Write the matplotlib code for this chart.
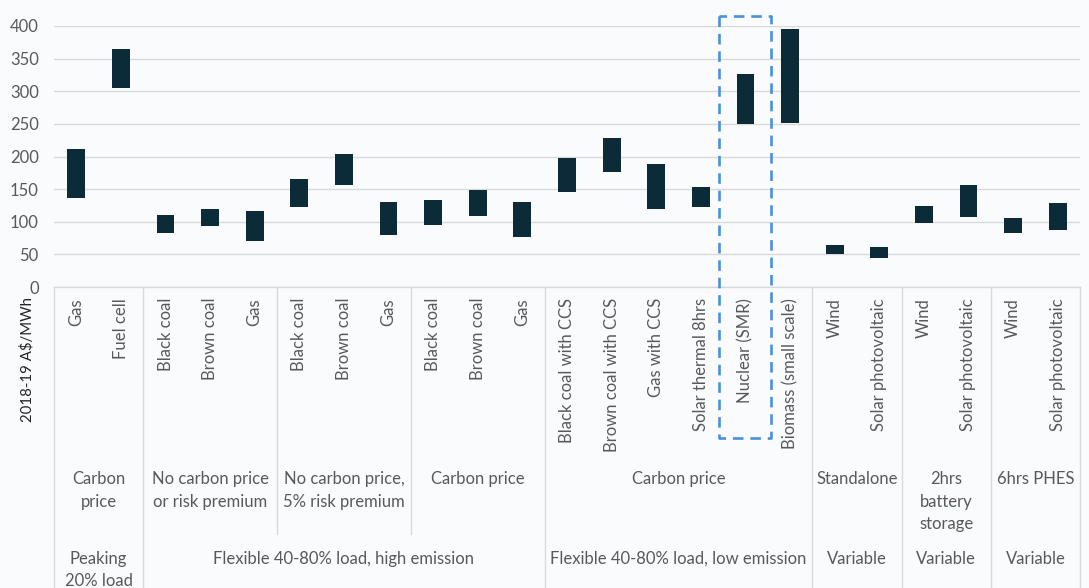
import matplotlib
matplotlib.use("Agg")
import matplotlib.pyplot as plt
from matplotlib.transforms import blended_transform_factory
from matplotlib.lines import Line2D

# Levelised cost ranges, 2018-19 A$/MWh
technologies = [
    "Gas", "Fuel cell",
    "Black coal", "Brown coal", "Gas",
    "Black coal", "Brown coal", "Gas",
    "Black coal", "Brown coal", "Gas",
    "Black coal with CCS", "Brown coal with CCS", "Gas with CCS",
    "Solar thermal 8hrs", "Nuclear (SMR)", "Biomass (small scale)",
    "Wind", "Solar photovoltaic",
    "Wind", "Solar photovoltaic",
    "Wind", "Solar photovoltaic",
]
cost_low = [136, 305, 82, 94, 70, 123, 157, 80, 95, 109, 76,
            146, 177, 119, 122, 250, 252, 51, 44, 98, 108, 83, 88]
cost_high = [212, 364, 110, 120, 117, 165, 204, 131, 133, 149, 131,
             197, 228, 189, 154, 326, 395, 64, 61, 124, 157, 105, 129]

# Middle level: (label, first index, last index exclusive)
scenarios = [
    ("Carbon\nprice", 0, 2),
    ("No carbon price\nor risk premium", 2, 5),
    ("No carbon price,\n5% risk premium", 5, 8),
    ("Carbon price", 8, 11),
    ("Carbon price", 11, 17),
    ("Standalone", 17, 19),
    ("2hrs\nbattery\nstorage", 19, 21),
    ("6hrs PHES", 21, 23),
]
# Outer level
load_types = [
    ("Peaking\n20% load", 0, 2),
    ("Flexible 40-80% load, high emission", 2, 11),
    ("Flexible 40-80% load, low emission", 11, 17),
    ("Variable", 17, 19),
    ("Variable", 19, 21),
    ("Variable", 21, 23),
]
highlight = "Nuclear (SMR)"
y_ticks = [0, 50, 100, 150, 200, 250, 300, 350, 400]

plt.rcParams["font.family"] = ["Lato", "DejaVu Sans"]
TEXT = "#595959"
GRID = "#D9D9D9"
BAR = "#0B2B38"
BG = "#FAFBFD"
FS = 12

W, H = 1089, 588
fig = plt.figure(figsize=(W / 100, H / 100), dpi=100, facecolor=BG)
ax = fig.add_axes([54 / W, 1 - 287 / H, (1080 - 54) / W, (287 - 26) / H])
ax.set_facecolor(BG)

n = len(technologies)
x = list(range(n))
heights = [h - l for l, h in zip(cost_low, cost_high)]
ax.bar(x, heights, bottom=cost_low, width=0.4, color=BAR, zorder=3)

ax.set_xlim(-0.5, n - 0.5)
ax.set_ylim(0, 400)
ax.set_yticks(y_ticks)
ax.tick_params(axis="y", length=0, pad=11, labelsize=FS, labelcolor=TEXT)
ax.set_xticks([])
ax.grid(axis="y", color=GRID, lw=1.0, zorder=0)
for s in ["top", "right", "left"]:
    ax.spines[s].set_visible(False)
ax.spines["bottom"].set_color(GRID)
ax.spines["bottom"].set_linewidth(1.0)

# Multi-level category axis
tr = blended_transform_factory(ax.transData, fig.transFigure)


def fy(px):
    return 1 - px / H


for i, name in enumerate(technologies):
    ax.text(i, fy(298), name, transform=tr, rotation=90, ha="center",
            va="top", fontsize=FS, color=TEXT)

for label, a, b in scenarios:
    ax.text((a + b - 1) / 2, fy(471), label, transform=tr, ha="center",
            va="top", fontsize=FS, color=TEXT, linespacing=1.5,
            multialignment="center")

for label, a, b in load_types:
    ax.text((a + b - 1) / 2, fy(551), label, transform=tr, ha="center",
            va="top", fontsize=FS, color=TEXT, linespacing=1.45,
            multialignment="center", clip_on=False)

outer_edges = {a for _, a, _ in load_types} | {n}
inner_edges = {a for _, a, _ in scenarios} - outer_edges
for e in sorted(outer_edges):
    fig.add_artist(Line2D([e - 0.5, e - 0.5], [fy(287), 0], transform=tr,
                          color=GRID, lw=1.0))
for e in sorted(inner_edges):
    fig.add_artist(Line2D([e - 0.5, e - 0.5], [fy(287), fy(534)],
                          transform=tr, color=GRID, lw=1.0))

# Dashed box around the highlighted technology
k = technologies.index(highlight)
x0, x1 = k - 0.59, k + 0.58
y0, y1 = fy(438), fy(15.5)
box = Line2D([x0, x0, x1, x1, x0], [y1, y0, y0, y1, y1], transform=tr,
             color="#4A90DC", lw=1.9, linestyle=(0, (4.0, 2.6)), zorder=5)
fig.add_artist(box)

fig.text(27 / W, fy(360), "2018-19 A$/MWh", rotation=90, ha="center",
         va="center", fontsize=10.8, color="#262626")

fig.savefig("out.png", dpi=100, facecolor=BG)
